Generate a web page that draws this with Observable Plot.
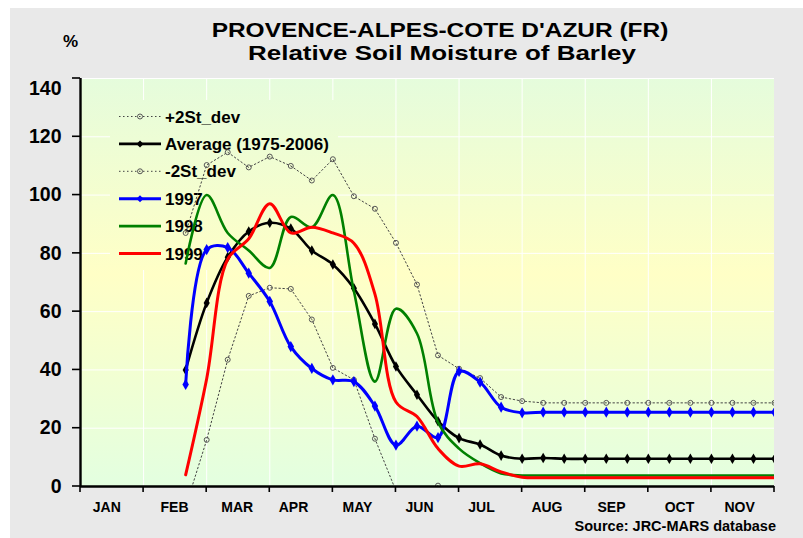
<!DOCTYPE html>
<html>
<head>
<meta charset="utf-8">
<script src="https://cdn.jsdelivr.net/npm/d3@7"></script>
<script src="https://cdn.jsdelivr.net/npm/@observablehq/plot@0.6"></script>
<style>
  html, body { margin: 0; padding: 0; background: #ffffff; }
  #wrap { position: relative; width: 803px; height: 538px; font-family: "Liberation Sans", Arial, sans-serif; overflow: hidden; }
  #panel { position: absolute; left: 10px; top: 8px; width: 793px; height: 530px; background: #e9e9e9; }
  #chart { position: absolute; left: 0; top: 0; }
  .t { position: absolute; font-weight: bold; color: #000; white-space: nowrap; }
  .title { width: 800px; text-align: center; font-size: 21px; line-height: 21px; transform-origin: 50% 50%; }
  #title1 { left: 39.5px; top: 19px; transform: scaleX(1.164); }
  #title2 { left: 42px; top: 42px; transform: scaleX(1.236); }
  #pct { left: 63px; top: 32.5px; font-size: 17px; line-height: 17px; }
  #source { right: 27px; top: 520.5px; font-size: 14.5px; line-height: 11px; }
</style>
</head>
<body>
<div id="wrap">
  <div id="panel"></div>
  <div id="chart"></div>
  <div class="t title" id="title1">PROVENCE-ALPES-COTE D'AZUR (FR)</div>
  <div class="t title" id="title2">Relative Soil Moisture of Barley</div>
  <div class="t" id="pct">%</div>
  <div class="t" id="source">Source: JRC-MARS database</div>
</div>
<script>
// ---- data (dekad index: 0 = 1 Jan, 3 = 1 Feb, ... 33 = end of Nov) ----
const months = ["JAN","FEB","MAR","APR","MAY","JUN","JUL","AUG","SEP","OCT","NOV"];
const monthLabelPos = [1.25,4.47,7.45,10.13,13.17,16.12,19.07,22.18,25.25,28.48,31.34];
const monthBounds = [0,3,6,9,12,15,18,21,24,27,30,33];
const yTicks = [0,20,40,60,80,100,120,140];
const dekads = [5,6,7,8,9,10,11,12,13,14,15,16,17,18,19,20,21,22,23,24,25,26,27,28,29,30,31,32,33];
const plus2sd = [87,110.3,114.7,109.5,113.2,110,105,112.3,99.6,95.3,83.6,69.3,45,40.4,37.2,30.7,29.3,28.7,28.7,28.7,28.7,28.7,28.7,28.7,28.7,28.7,28.7,28.7,28.7];
const average = [40,63,78.7,87.5,90.5,88.5,81,76.2,68,55.8,41.2,31.5,22.4,16.6,14.4,10.6,9.5,9.8,9.5,9.5,9.5,9.5,9.5,9.5,9.5,9.5,9.5,9.5,9.5];
const minus2sd = [-7,16,43.5,65.4,68.2,67.8,57.3,40.7,36.6,16.4,-1.5,-6,0.3,-7,-8,-9.5,-10,-9.5,-9.5,-9.5,-9.5,-9.5,-9.5,-9.5,-9.5,-9.5,-9.5,-9.5,-9.5];
const y1997 = [35,81.3,82,73.2,63.5,48,40.5,36.6,36,27.6,14.2,20.7,16.8,39.5,35.8,27.2,25.3,25.5,25.5,25.5,25.5,25.5,25.5,25.5,25.5,25.5,25.5,25.5,25.5];
const y1998 = [76.5,100,87,81,75,92.5,89,100,67,36,61,52.5,22,13,8,4.5,3.8,3.8,3.8,3.8,3.8,3.8,3.8,3.8,3.8,3.8,3.8,3.8,3.8];
const y1999 = [4,37,78,85,97,87,89,87,83.5,66,29,24,13,7,7.8,5,3.2,3,3,3,3,3,3,3,3,3,3,3,3];

const legendItems = [
  {name: "+2St_dev", stroke: "#444", width: 1, dash: "1.5,2.5", marker: "circle"},
  {name: "Average (1975-2006)", stroke: "#000", width: 2.6, dash: null, marker: "diamond"},
  {name: "-2St_dev", stroke: "#444", width: 1, dash: "1.5,2.5", marker: "circle"},
  {name: "1997", stroke: "#0000ff", width: 3, dash: null, marker: "diamond"},
  {name: "1998", stroke: "#008000", width: 2.6, dash: null, marker: null},
  {name: "1999", stroke: "#ff0000", width: 3, dash: null, marker: null}
];

const FONT = '"Liberation Sans", Arial, sans-serif';
const toRows = (vals) => dekads.map((k, i) => ({k, v: vals[i]}));
const up = toRows(plus2sd), av = toRows(average), lo = toRows(minus2sd);
const s97 = toRows(y1997), s98 = toRows(y1998), s99 = toRows(y1999);
const curve = "catmull-rom";

// background gradient of the plotting area
function background(index, scales, values, dims) {
  const x0 = dims.marginLeft, x1 = dims.width - dims.marginRight;
  const y0 = dims.marginTop, y1 = dims.height - dims.marginBottom;
  const g = d3.create("svg:g");
  const lg = g.append("defs").append("linearGradient").attr("id", "bgGrad")
    .attr("gradientUnits", "userSpaceOnUse")
    .attr("x1", 0).attr("x2", 0).attr("y1", y0).attr("y2", y1);
  lg.append("stop").attr("offset", "0%").attr("stop-color", "#e5fcdc");
  lg.append("stop").attr("offset", "48%").attr("stop-color", "#ffffc6");
  lg.append("stop").attr("offset", "100%").attr("stop-color", "#e3ffe0");
  g.append("rect").attr("x", x0).attr("y", y0).attr("width", x1 - x0).attr("height", y1 - y0)
    .attr("fill", "url(#bgGrad)");
  return g.node();
}

function legend(index, scales, values, dims) {
  const left = dims.marginLeft;
  const top = dims.marginTop;
  const g = d3.create("svg:g").attr("text-anchor", "start");
  g.append("rect").attr("x", left + 30).attr("y", top + 22).attr("width", 228).attr("height", 170)
    .attr("fill", "url(#bgGrad)");
  legendItems.forEach((d, i) => {
    const cy = top + 38.5 + i * 27.4;
    const row = g.append("g");
    row.append("line").attr("x1", left + 39).attr("x2", left + 81).attr("y1", cy).attr("y2", cy)
      .attr("stroke", d.stroke).attr("stroke-width", d.width)
      .attr("stroke-dasharray", d.dash);
    if (d.marker === "circle") {
      row.append("circle").attr("cx", left + 60).attr("cy", cy).attr("r", 2.5)
        .attr("fill", "none").attr("stroke", "#555").attr("stroke-width", 1);
    } else if (d.marker === "diamond") {
      row.append("path").attr("d", `M${left + 60},${cy - 3.5}l3.5,3.5l-3.5,3.5l-3.5,-3.5z`)
        .attr("fill", d.stroke);
    }
    row.append("text").attr("x", left + 85).attr("y", cy).attr("dy", "0.36em")
      .attr("text-anchor", "start")
      .attr("font-size", 17).attr("font-weight", "bold").attr("fill", "#000")
      .attr("font-family", FONT)
      .text(d.name);
  });
  return g.node();
}

// axis tick marks, positioned through the Plot scales
function tickMarks(index, scales, values, dims) {
  const g = d3.create("svg:g").attr("stroke", "#000").attr("stroke-width", 1.6);
  const y0 = scales.y(0), x0 = scales.x(0);
  monthBounds.forEach((m) => {
    const px = scales.x(m);
    g.append("line").attr("x1", px).attr("x2", px).attr("y1", y0).attr("y2", y0 + 6);
  });
  yTicks.forEach((t) => {
    const py = scales.y(t);
    g.append("line").attr("x1", x0 - 8).attr("x2", x0).attr("y1", py).attr("y2", py);
  });
  return g.node();
}

const chart = Plot.plot({
  width: 803,
  height: 538,
  marginLeft: 80,
  marginRight: 29,
  marginTop: 78,
  marginBottom: 52,
  style: {background: "transparent", fontFamily: FONT},
  x: {domain: [0, 33], axis: null},
  y: {domain: [0, 140], axis: null},
  marks: [
    background,
    Plot.gridY(yTicks.slice(1), {stroke: "#ffffff", strokeOpacity: 1, strokeWidth: 1}),
    Plot.gridX(monthBounds.slice(1, -1), {stroke: "#ffffff", strokeOpacity: 1, strokeWidth: 1}),
    legend,
    Plot.line(up, {x: "k", y: "v", stroke: "#444", strokeWidth: 1, strokeDasharray: "1.5,2.5", clip: true}),
    Plot.dot(up, {x: "k", y: "v", r: 2.5, stroke: "#555", fill: "none", strokeWidth: 1, clip: true}),
    Plot.line(lo, {x: "k", y: "v", stroke: "#444", strokeWidth: 1, strokeDasharray: "1.5,2.5", clip: true}),
    Plot.dot(lo, {x: "k", y: "v", r: 2.5, stroke: "#555", fill: "none", strokeWidth: 1, clip: true}),
    Plot.line(av, {x: "k", y: "v", stroke: "#000", strokeWidth: 2.6, curve, clip: true}),
    Plot.dot(av, {x: "k", y: "v", symbol: "diamond", r: 3.2, fill: "#000", clip: true}),
    Plot.line(s97, {x: "k", y: "v", stroke: "#0000ff", strokeWidth: 3, curve, clip: true}),
    Plot.dot(s97, {x: "k", y: "v", symbol: "diamond", r: 3.4, fill: "#0000ff", clip: true}),
    Plot.line(s98, {x: "k", y: "v", stroke: "#008000", strokeWidth: 2.6, curve, clip: true}),
    Plot.line(s99, {x: "k", y: "v", stroke: "#ff0000", strokeWidth: 3, curve, clip: true}),
    // axes
    tickMarks,
    Plot.text(yTicks.slice(0, -1), {y: (d) => d, frameAnchor: "left", dx: -19, textAnchor: "end", text: (d) => String(d), fontSize: 19.5, fontWeight: "bold", fill: "#000"}),
    Plot.text(yTicks.slice(-1), {y: (d) => d, frameAnchor: "left", dx: -19, dy: 10.5, textAnchor: "end", text: (d) => String(d), fontSize: 19.5, fontWeight: "bold", fill: "#000"}),
    Plot.text(monthLabelPos, {x: (d) => d, frameAnchor: "bottom", dy: 25, text: (d, i) => months[i], fontSize: 14, fontWeight: "bold", fill: "#000"}),
    Plot.ruleY([0], {stroke: "#000", strokeWidth: 2.4}),
    Plot.ruleX([0], {stroke: "#000", strokeWidth: 2.4})
  ]
});
document.getElementById("chart").appendChild(chart);
</script>
</body>
</html>
